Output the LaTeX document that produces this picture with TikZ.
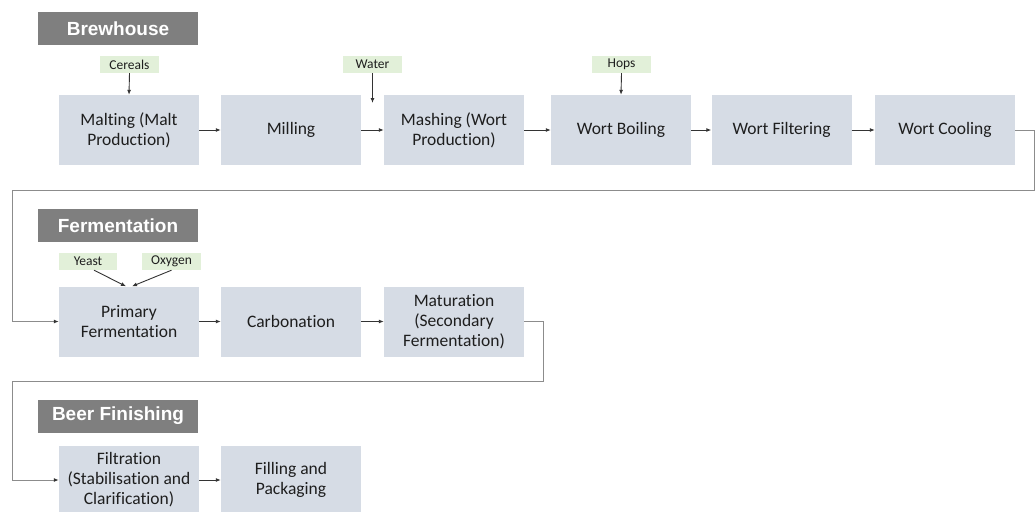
\documentclass[tikz,border=0pt]{standalone}
\usepackage{fontspec}
\setmainfont{Carlito}[Ligatures=NoCommon]
\newfontfamily\hdrfont{Liberation Sans}
\usetikzlibrary{arrows.meta}
\definecolor{boxc}{HTML}{D6DCE5}
\definecolor{hdrc}{HTML}{7F7F7F}
\definecolor{inc}{HTML}{E2F0D9}
\definecolor{linec}{HTML}{8C8C8C}
\definecolor{txtc}{HTML}{1E1E1E}
\begin{document}
\begin{tikzpicture}[x=1pt,y=-1pt,
 stepbox/.style={fill=boxc, minimum width=140pt, minimum height=70pt, inner sep=0pt, align=center, text=txtc, font=\fontsize{17.5}{20}\selectfont},
 hdr/.style={fill=hdrc, minimum width=160pt, minimum height=33pt, inner sep=0pt, text=white, font=\hdrfont\bfseries\fontsize{19}{22}\selectfont},
 inlabel/.style={fill=inc, minimum width=59pt, minimum height=17pt, inner sep=0pt, text=txtc, font=\fontsize{13.5}{15}\selectfont},
 flow/.style={-{Latex[length=5pt,width=4pt]}, line width=0.9pt, draw=black!80},
 route/.style={line width=1pt, draw=linec, -{Latex[length=5pt,width=4pt,color=black!80]}}]
\useasboundingbox (0,0) rectangle (1035,511);
% headers
\node[hdr] (h1) at (118,28.5) {Brewhouse};
\node[hdr] (h2) at (118,225.5) {Fermentation};
\node[hdr] (h3) at (118,416) {Beer Finishing};
% row 1
\node[stepbox] (malt) at (129,130) {Malting (Malt\\Production)};
\node[stepbox] (mill) at (291,130) {Milling};
\node[stepbox] (mash) at (454,130) {Mashing (Wort\\Production)};
\node[stepbox] (boil) at (621,130) {Wort Boiling};
\node[stepbox] (filt) at (781.5,130) {Wort Filtering};
\node[stepbox] (cool) at (945,130) {Wort Cooling};
% inputs row 1
\node[inlabel] (cereals) at (129.5,64.5) {Cereals};
\node[inlabel] (water) at (372.5,64.5) {Water};
\node[inlabel] (hops) at (621.5,64.5) {Hops};
\coordinate (wend) at (372.5,103);
\draw[flow] (cereals.south) -- (malt.north);
\draw[flow] (water.south) -- (wend);
\draw[flow] (hops.south) -- (boil.north);
\draw[flow] (malt) -- (mill);
\draw[flow] (mill) -- (mash);
\draw[flow] (mash) -- (boil);
\draw[flow] (boil) -- (filt);
\draw[flow] (filt) -- (cool);
% row 2
\node[stepbox] (prim) at (129,321.5) {Primary\\Fermentation};
\node[stepbox] (carb) at (291,321.5) {Carbonation};
\node[stepbox] (mat) at (454,321.5) {Maturation\\(Secondary\\Fermentation)};
\node[inlabel,minimum width=58pt] (yeast) at (88,261.5) {Yeast};
\node[inlabel] (oxy) at (171.5,261.5) {Oxygen};
\draw[flow] ([xshift=6pt]yeast.south) -- ([xshift=-3pt]prim.north);
\draw[flow] (oxy.south) -- ([xshift=3pt]prim.north);
\draw[flow] (prim) -- (carb);
\draw[flow] (carb) -- (mat);
% row 3
\node[stepbox,minimum height=68pt] (filtr) at (129,480) {Filtration\\(Stabilisation and\\Clarification)};
\node[stepbox,minimum height=68pt] (fill) at (291,480) {Filling and\\Packaging};
\draw[flow] (filtr) -- (fill);
% routing connectors
\coordinate (c1) at (1034.5,190);
\coordinate (c2) at (12,190);
\coordinate (c3) at (543,381);
\coordinate (c4) at (12,381);
\draw[route] (cool.east) -| (c1) -- (c2) |- (prim.west);
\draw[route] (mat.east) -| (c3) -- (c4) |- (filtr.west);
\end{tikzpicture}
\end{document}
